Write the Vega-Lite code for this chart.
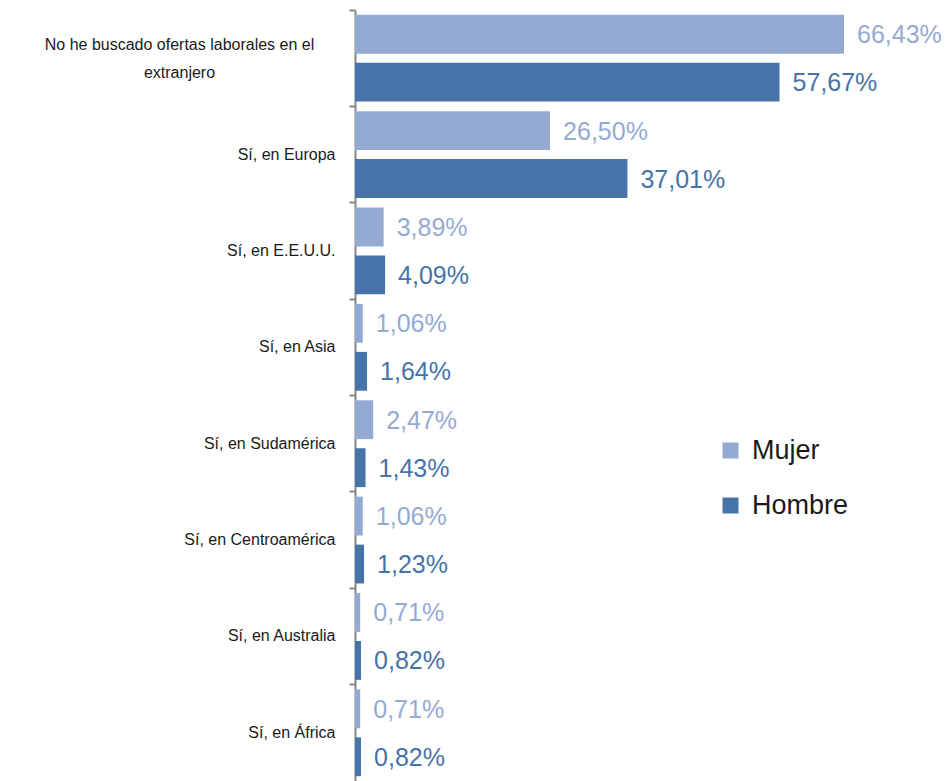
{
  "$schema": "https://vega.github.io/schema/vega-lite/v6.json",
  "width": 597,
  "height": 771,
  "autosize": {"type": "none"},
  "padding": {"left": 355, "top": 10, "right": 0, "bottom": 0},
  "background": "white",
  "config": {
    "view": {"stroke": null},
    "locale": {"number": {"decimal": ",", "thousands": ".", "grouping": [3], "currency": ["", " €"]}},
    "font": "Liberation Sans"
  },
  "data": {
    "values": [
      {"categoria": "No he buscado ofertas laborales en el extranjero", "sexo": "Mujer", "valor": 0.6643},
      {"categoria": "No he buscado ofertas laborales en el extranjero", "sexo": "Hombre", "valor": 0.5767},
      {"categoria": "Sí, en Europa", "sexo": "Mujer", "valor": 0.2650},
      {"categoria": "Sí, en Europa", "sexo": "Hombre", "valor": 0.3701},
      {"categoria": "Sí, en E.E.U.U.", "sexo": "Mujer", "valor": 0.0389},
      {"categoria": "Sí, en E.E.U.U.", "sexo": "Hombre", "valor": 0.0409},
      {"categoria": "Sí, en Asia", "sexo": "Mujer", "valor": 0.0106},
      {"categoria": "Sí, en Asia", "sexo": "Hombre", "valor": 0.0164},
      {"categoria": "Sí, en Sudamérica", "sexo": "Mujer", "valor": 0.0247},
      {"categoria": "Sí, en Sudamérica", "sexo": "Hombre", "valor": 0.0143},
      {"categoria": "Sí, en Centroamérica", "sexo": "Mujer", "valor": 0.0106},
      {"categoria": "Sí, en Centroamérica", "sexo": "Hombre", "valor": 0.0123},
      {"categoria": "Sí, en Australia", "sexo": "Mujer", "valor": 0.0071},
      {"categoria": "Sí, en Australia", "sexo": "Hombre", "valor": 0.0082},
      {"categoria": "Sí, en África", "sexo": "Mujer", "valor": 0.0071},
      {"categoria": "Sí, en África", "sexo": "Hombre", "valor": 0.0082}
    ]
  },
  "encoding": {
    "y": {
      "field": "categoria",
      "type": "nominal",
      "sort": null,
      "scale": {"paddingInner": 0, "paddingOuter": 0},
      "axis": {
        "title": null,
        "bandPosition": 0,
        "domainColor": "#868686",
        "domainWidth": 2,
        "tickColor": "#868686",
        "tickWidth": 2,
        "tickSize": 6,
        "labelFont": "Liberation Sans",
        "labelFontSize": 16,
        "labelColor": "#1a1a1a",
        "labelLimit": 400,
        "labelExpr": "datum.value == 'No he buscado ofertas laborales en el extranjero' ? ['No he buscado ofertas laborales en el', 'extranjero'] : datum.value",
        "labelAlign": {"condition": {"test": "datum.value == 'No he buscado ofertas laborales en el extranjero'", "value": "center"}, "value": "right"},
        "labelPadding": {"condition": {"test": "datum.value == 'No he buscado ofertas laborales en el extranjero'", "value": 170}, "value": 14},
        "labelOffset": {"condition": {"test": "datum.value == 'No he buscado ofertas laborales en el extranjero'", "value": -13}, "value": 0},
        "labelLineHeight": 28
      }
    },
    "yOffset": {
      "field": "sexo",
      "type": "nominal",
      "sort": ["Mujer", "Hombre"],
      "scale": {"paddingInner": 0.19, "paddingOuter": 0.1}
    },
    "x": {
      "field": "valor",
      "type": "quantitative",
      "scale": {"domain": [0, 0.811], "nice": false, "zero": true},
      "axis": null
    }
  },
  "layer": [
    {
      "mark": {"type": "bar"},
      "encoding": {
        "color": {
          "field": "sexo",
          "type": "nominal",
          "scale": {"domain": ["Mujer", "Hombre"], "range": ["#95AAD3", "#4673A8"]},
          "legend": {
            "title": null,
            "orient": "none",
            "legendX": 362,
            "legendY": 427,
            "symbolType": "square",
            "symbolSize": 256,
            "symbolStrokeWidth": 0,
            "labelFont": "Liberation Sans",
            "labelFontSize": 27,
            "labelColor": "#1a1a1a",
            "rowPadding": 27,
            "labelOffset": 8
          }
        }
      }
    },
    {
      "mark": {"type": "text", "align": "left", "baseline": "middle", "dx": 13, "dy": 1, "fontSize": 25, "font": "Liberation Sans"},
      "encoding": {
        "text": {"field": "valor", "type": "quantitative", "format": ".2%"},
        "color": {"condition": {"test": "datum.sexo === 'Mujer'", "value": "#95AAD3"}, "value": "#4673A8"}
      }
    }
  ]
}
